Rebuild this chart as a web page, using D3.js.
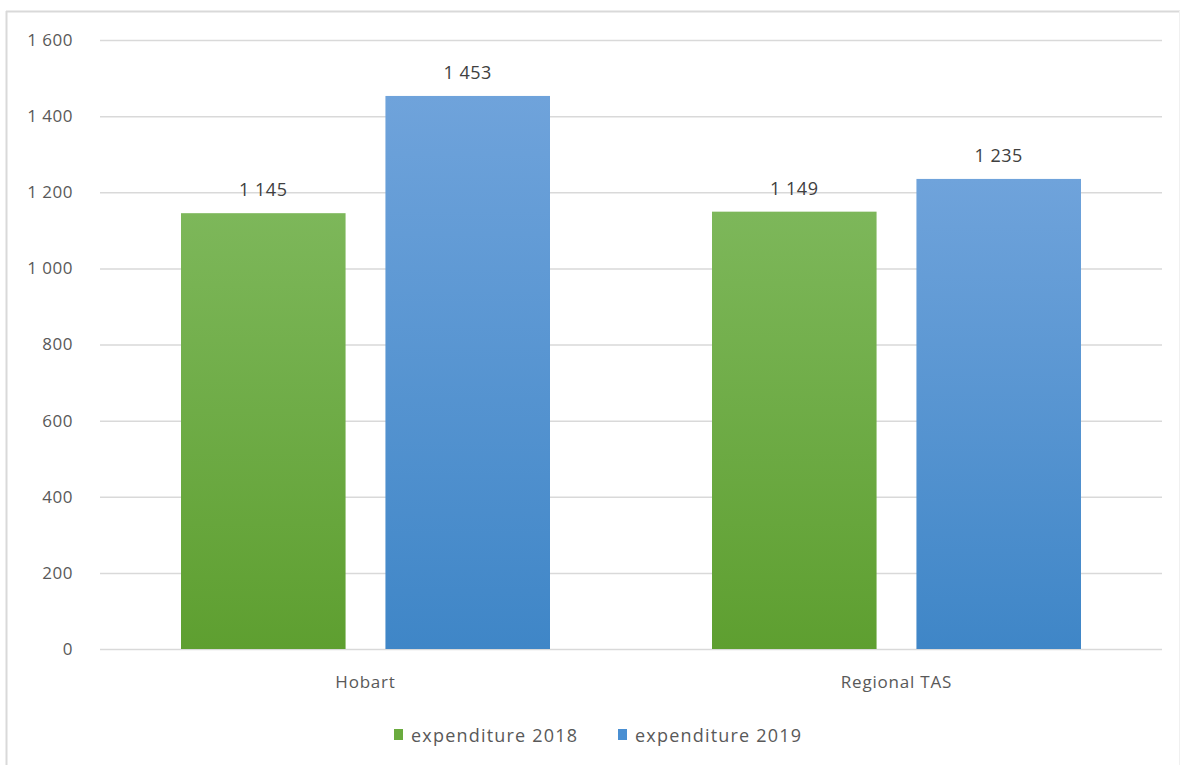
<!DOCTYPE html>
<html><head><meta charset="utf-8">
<script src="https://cdn.jsdelivr.net/npm/d3@7"></script>
<style>body{margin:0;background:#fff;} text{font-family:"Open Sans","Noto Sans",sans-serif;}</style>
</head><body><svg id="c" width="1184" height="765"></svg>
<script>
const categories = ["Hobart", "Regional TAS"];
const seriesNames = ["expenditure 2018", "expenditure 2019"];
const values2018 = [1145, 1149];
const values2019 = [1453, 1235];
const yTicks = [0, 200, 400, 600, 800, 1000, 1200, 1400, 1600];

const svg = d3.select("#c");
const m = {left: 100, right: 1162, top: 40, bottom: 649};
const fmt = v => d3.format(",")(v).replace(/,/g, " ");

// frame
svg.append("line").attr("x1",6).attr("x2",1180).attr("y1",11.5).attr("y2",11.5).attr("stroke","#d9d9d9").attr("stroke-width",2);
svg.append("line").attr("x1",6.5).attr("x2",6.5).attr("y1",11).attr("y2",765).attr("stroke","#d9d9d9").attr("stroke-width",2);
svg.append("line").attr("x1",1179.5).attr("x2",1179.5).attr("y1",11).attr("y2",765).attr("stroke","#f0f0f0").attr("stroke-width",1);

const y = d3.scaleLinear().domain([0,1600]).range([m.bottom, m.top]);
const x0 = d3.scaleBand().domain(categories).range([m.left, m.right]).paddingInner(0).paddingOuter(0);
const x1 = d3.scaleBand().domain(seriesNames).range([81, 450]).paddingInner(0.195).paddingOuter(0);

const defs = svg.append("defs");
const grads = [["g0","#7db75a","#5e9f30"],["g1","#6fa3db","#3f86c7"]];
grads.forEach(([id,a,b])=>{
  const g = defs.append("linearGradient").attr("id",id).attr("x1",0).attr("y1",0).attr("x2",0).attr("y2",1);
  g.append("stop").attr("offset","0%").attr("stop-color",a);
  g.append("stop").attr("offset","100%").attr("stop-color",b);
});
const colors = ["url(#g0)","url(#g1)"];
const legendColors = ["#6aab3e","#4a8fd2"];

// gridlines & y labels
const yAxis = d3.axisLeft(y).tickValues(yTicks).tickSize(-(m.right-m.left)).tickFormat(fmt).tickPadding(27);
const ga = svg.append("g").attr("transform",`translate(${m.left},0)`).call(yAxis);
ga.select(".domain").remove();
ga.selectAll(".tick line").attr("stroke","#d9d9d9").attr("stroke-width",1.5);
ga.selectAll(".tick text").attr("fill","#595959").style("font-size","17px").style("letter-spacing","0.5px");

// bars
const series = [values2018, values2019];
categories.forEach((c,i)=>{
  const g = svg.append("g").attr("transform",`translate(${x0(c)},0)`);
  seriesNames.forEach((s,j)=>{
    const v = series[j][i];
    g.append("rect").attr("x",x1(s)).attr("width",x1.bandwidth())
      .attr("y",y(v)).attr("height",y(0)-y(v)).attr("fill",colors[j]);
    g.append("text").attr("x",x1(s)+x1.bandwidth()/2).attr("y",y(v)-17)
      .attr("text-anchor","middle").attr("fill","#404040").style("font-size","18px").style("letter-spacing","0.5px").text(fmt(v));
  });
});

// x axis labels
const xa = d3.axisBottom(x0).tickSize(0).tickPadding(27);
const gx = svg.append("g").attr("transform",`translate(0,${m.bottom})`).call(xa);
gx.select(".domain").remove();
gx.selectAll(".tick text").attr("fill","#595959").style("font-size","17px").style("letter-spacing","0.8px");

// legend
const legX = [394, 618];
seriesNames.forEach((s,j)=>{
  svg.append("rect").attr("x",legX[j]).attr("y",729).attr("width",9).attr("height",11).attr("fill",legendColors[j]);
  svg.append("text").attr("x",legX[j]+17).attr("y",742).attr("fill","#595959").style("font-size","18px").style("letter-spacing","1.2px").text(s);
});
</script></body></html>
